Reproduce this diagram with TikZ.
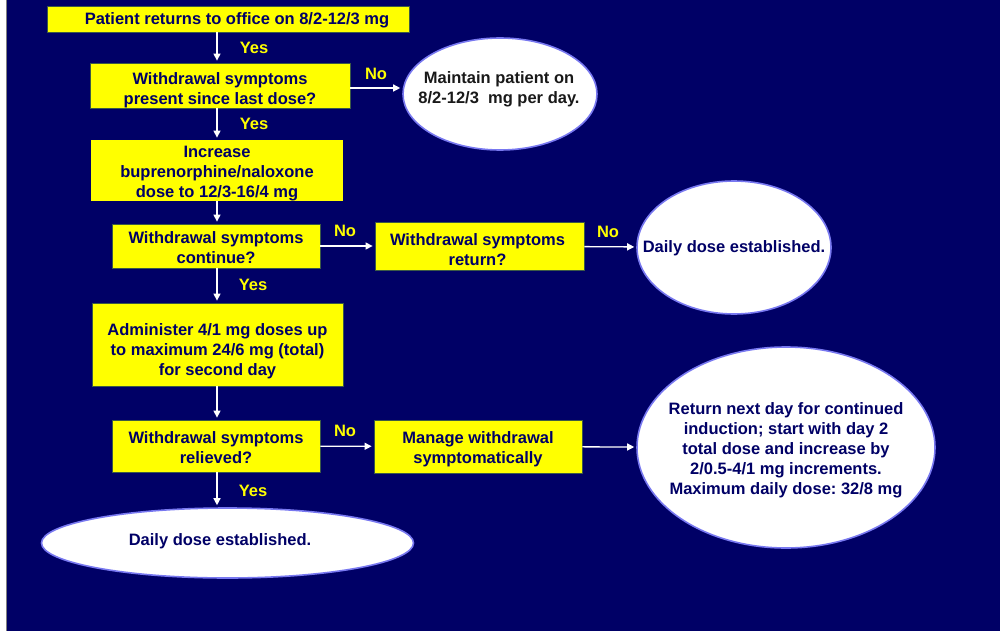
\documentclass[tikz,border=0pt]{standalone}
\usepackage{fontspec}
\setmainfont{Liberation Sans}
\usetikzlibrary{shapes.geometric,arrows.meta}
\definecolor{navybg}{RGB}{0,0,102}
\definecolor{boxyellow}{RGB}{255,255,0}
\definecolor{boxedge}{RGB}{60,90,70}
\definecolor{ovaledge}{RGB}{120,120,240}
\definecolor{inktext}{RGB}{0,0,102}
\definecolor{darkink}{RGB}{25,25,25}
\frenchspacing
\begin{document}
\begin{tikzpicture}[x=1pt, y=-1pt,
  font=\fontsize{16.5}{20}\selectfont\bfseries,
  stepbox/.style={rectangle, fill=boxyellow, draw=boxedge, line width=0.8pt, inner sep=0pt},
  plainbox/.style={stepbox, draw=none},
  oval/.style={ellipse, fill=white, draw=ovaledge, line width=1.6pt, inner sep=0pt},
  boxtext/.style={text=inktext, align=center, inner sep=0pt},
  answer/.style={text=boxyellow, inner sep=0pt},
  arr/.style={draw=white, line width=1.3pt, shorten >=2pt,
              -{Triangle[length=7pt,width=7pt]}}]

% page background
\useasboundingbox (0,0) rectangle (1000,631);
\fill[white] (0,0) rectangle (6,631);
\fill[navybg] (6,0) rectangle (1000,631);
\draw[gray, line width=0.8pt] (6.4,0) -- (6.4,631);

% main column of arrows
\coordinate (col) at (217,0);

% process boxes
\node[stepbox, minimum width=362pt, minimum height=26pt] (b1) at (228,19) {};
\node[stepbox, minimum width=260pt, minimum height=45pt] (b2) at (220,85.5) {};
\node[plainbox, minimum width=252pt, minimum height=61pt] (b3) at (217,170.5) {};
\node[stepbox, minimum width=208pt, minimum height=44pt] (b4) at (216,246) {};
\node[stepbox, minimum width=209pt, minimum height=48pt] (b5) at (479.5,246) {};
\node[stepbox, minimum width=251pt, minimum height=83pt] (b6) at (217.5,344.5) {};
\node[stepbox, minimum width=208pt, minimum height=52pt] (b7) at (216,446) {};
\node[stepbox, minimum width=208pt, minimum height=53pt] (b8) at (478,446.5) {};

% box texts
\node[boxtext] (b1t) at ([xshift=9pt,yshift=-1pt]b1.center)
  {Patient returns to office on 8/2-12/3 mg};
\node[boxtext] (b2t) at ([yshift=-5pt]b2.center)
  {Withdrawal symptoms\\present since last dose?};
\node[boxtext] (b3t) at ([yshift=-3pt]b3.center)
  {Increase\\buprenorphine/naloxone\\dose to 12/3-16/4 mg};
\node[boxtext] (b4t) at ([yshift=-2pt]b4.center)
  {Withdrawal symptoms\\continue?};
\node[boxtext] (b5t) at ([xshift=-2pt,yshift=-4pt]b5.center)
  {Withdrawal symptoms\\return?};
\node[boxtext] (b6t) at ([yshift=-6.5pt]b6.center)
  {Administer 4/1 mg doses up\\to maximum 24/6 mg (total)\\for second day};
\node[boxtext] (b7t) at ([yshift=-1.5pt]b7.center)
  {Withdrawal symptoms\\relieved?};
\node[boxtext] (b8t) at ([yshift=-3pt]b8.center)
  {Manage withdrawal\\symptomatically};

% outcome ovals
\node[oval, minimum width=194pt, minimum height=112pt] (e1) at (500,94) {};
\node[boxtext, text=darkink] (e1t) at (499,89)
  {Maintain patient on\\8/2-12/3\ \ mg per day.};
\node[oval, minimum width=194pt, minimum height=133pt] (e2) at (734,247.5) {};
\node[boxtext] (e2t) at (734,248) {Daily dose established.};
\node[oval, minimum width=298pt, minimum height=201pt] (e3) at (786,447.5) {};
\node[boxtext] (e3t) at (786,450)
  {Return next day for continued\\induction; start with day 2\\total dose and increase by\\2/0.5-4/1 mg increments.\\Maximum daily dose: 32/8 mg};
\node[oval, minimum width=372pt, minimum height=70pt] (e4) at (227.5,543) {};
\node[boxtext] (e4t) at (220,541) {Daily dose established.};

% vertical flow
\draw[arr] (b1.south -| col) -- (b2.north -| col);
\draw[arr] (b2.south -| col) -- (b3.north -| col);
\draw[arr] (b3.south -| col) -- (b4.north -| col);
\draw[arr] (b4.south -| col) -- (b6.north -| col);
\draw[arr] (b6.south -| col) -- (b7.north -| col);
\draw[arr] (b7.south -| col) -- (e4.north -| col);

% horizontal flow
\draw[arr] ([yshift=-2.5pt]b2.east) -- ([yshift=-2.5pt]b2.east -| e1.west);
\draw[arr] (b4) -- (b5);
\draw[arr] (b5) -- (e2);
\draw[arr] (b7) -- (b8);
\draw[arr] (b8) -- (e3);

% answers
\node[answer] (y1) at (254,47.5) {Yes};
\node[answer] (y2) at (254,124) {Yes};
\node[answer] (y3) at (253,285) {Yes};
\node[answer] (y4) at (253,490.5) {Yes};
\node[answer] (n1) at (376,73.5) {No};
\node[answer] (n2) at (345,230.5) {No};
\node[answer] (n3) at (608,231.5) {No};
\node[answer] (n4) at (345,430.5) {No};
\end{tikzpicture}
\end{document}
